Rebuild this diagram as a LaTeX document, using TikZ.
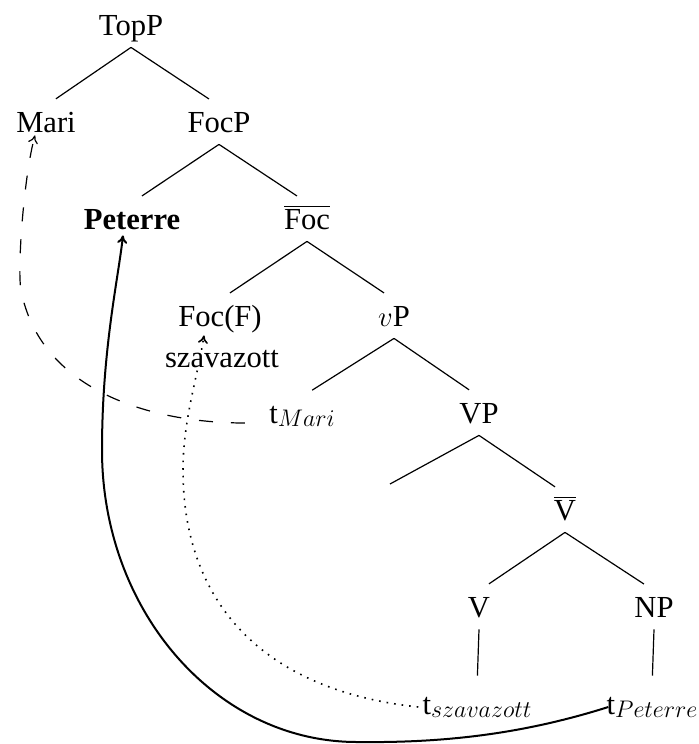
\documentclass[tikz,border=0pt]{standalone}
\usepackage{fontspec}
\setmainfont{Liberation Serif}
\usetikzlibrary{arrows.meta}

\newcommand{\trc}[1]{t\raisebox{-1.5pt}{\fontsize{12.5}{14}\selectfont$#1$}}

\begin{document}
\begin{tikzpicture}[x=0.5pt,y=-0.5pt,
	every node/.style={font=\fontsize{15.3}{18}\selectfont},
	cat/.style={anchor=base,inner sep=3pt,text height=10pt,text depth=3pt},
	branch/.style={line width=0.6pt,shorten >=6pt},
	mv/.style={-{To[length=4pt,width=5pt]}}]
	\useasboundingbox (0,0) rectangle (698,744);
	% categories
	\node[cat] (topp) at (131,35) {TopP};
	\node[cat] (mari) at (46,132) {Mari};
	\node[cat] (focp) at (219,132) {FocP};
	\node[cat] (peterre) at (132,229) {\textbf{Peterre}};
	\node[cat] (focbar) at (307,229) {$\overline{\mbox{Foc}}$};
	\node[cat] (focf) at (220,326) {Foc(F)};
	\node[cat] (vp) at (394,326) {$v$P};
	\node[cat] (tmari) at (302,423) {\trc{Mari}};
	\node[cat] (vpp) at (479,423) {VP};
	\coordinate (vpspec) at (390,484);
	\node[cat] (vbar) at (565,520) {$\overline{\mbox{V}}$};
	\node[cat] (v) at (479,617) {V};
	\node[cat] (np) at (654,617) {NP};
	\node[cat] (tszav) at (477,714) {\trc{szavazott}};
	\node[cat] (tpet) at (652,714) {\trc{Peterre}};
	% branches
	\draw[branch] (topp.south) -- (mari.north);
	\draw[branch] (topp.south) -- (focp.north);
	\draw[branch] (focp.south) -- (peterre.north);
	\draw[branch] (focp.south) -- (focbar.north);
	\draw[branch] (focbar.south) -- (focf.north);
	\draw[branch] (focbar.south) -- (vp.north);
	\draw[branch] (vp.south) -- (tmari.north);
	\draw[branch] (vp.south) -- (vpp.north);
	\draw[line width=0.6pt] (vpp.south) -- (vpspec);
	\draw[branch] (vpp.south) -- (vbar.north);
	\draw[branch] (vbar.south) -- (v.north);
	\draw[branch] (vbar.south) -- (np.north);
	\draw[branch] (v.south) -- (tszav.north);
	\draw[branch] (np.south) -- (tpet.north);
	% movements
	\draw[mv,line width=0.6pt,dash pattern=on 7pt off 9pt] ([xshift=-9pt]tmari.base west) .. controls (150,423) and (40,390) .. (21,290) .. controls (17,269) and (24,175) .. ([xshift=-5.5pt,yshift=4.5pt]mari.south);
	\draw[mv,line width=1pt] ([xshift=4pt]tpet.west) .. controls (520,735) and (440,743) .. (357,742) .. controls (215,742) and (102,610) .. (102,450) .. controls (102,350) and (118,280) .. ([xshift=-4.5pt,yshift=3pt]peterre.south);
	\draw[mv,line width=0.8pt,dash pattern=on 0.8pt off 3pt] ([xshift=1pt]tszav.west) .. controls (260,690) and (183,600) .. (183,470) .. controls (183,420) and (198,375) .. ([xshift=-8pt,yshift=1.5pt]focf.south);
	\node[anchor=base,fill=white,inner sep=0pt] (szav) at (222,367) {szavazott};
\end{tikzpicture}
\end{document}
